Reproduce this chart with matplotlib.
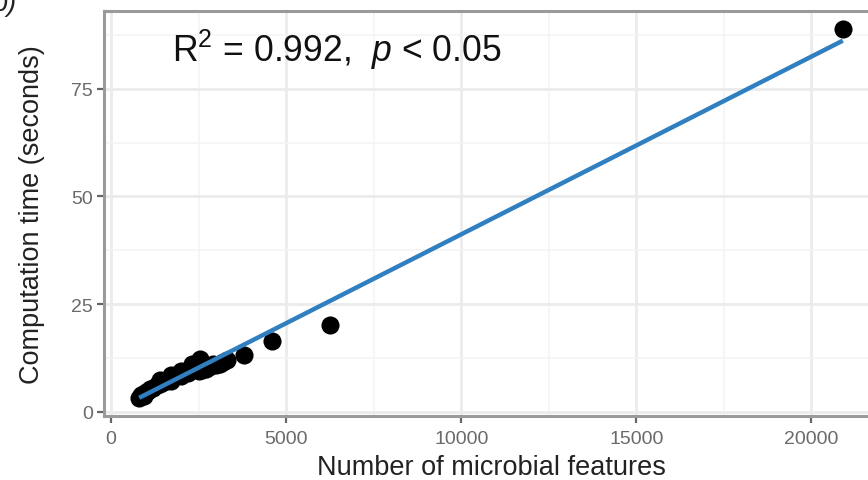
import matplotlib

matplotlib.use('Agg')
import numpy as np
import matplotlib.pyplot as plt

matplotlib.rcParams.update({'font.family': ['Liberation Sans', 'DejaVu Sans'],
                            'mathtext.fontset': 'custom',
                            'mathtext.rm': 'Liberation Sans',
                            'mathtext.it': 'Liberation Sans:italic'})

# number of microbial features vs computation time (s)
features = [800, 850, 900, 950, 1000, 1050, 1100, 1200, 1300, 1400, 1400, 1500,
            1600, 1700, 1700, 1800, 1900, 2000, 2000, 2100, 2200, 2300, 2300,
            2400, 2500, 2530, 2600, 2700, 2800, 2900, 3000, 3100, 3200, 3300,
            3800, 4600, 6250, 20900]
comp_time = [3.3, 3.8, 4.2, 3.6, 4.5, 4.9, 5.3, 5.6, 6.2, 6.4, 7.3, 7.0,
             7.5, 7.2, 8.5, 8.2, 8.6, 8.4, 9.5, 9.3, 9.0, 10.0, 11.2,
             10.6, 9.5, 12.2, 9.8, 10.0, 10.3, 11.0, 10.9, 11.2, 11.5, 12.0,
             13.3, 16.5, 20.2, 88.8]
x_ticks = [0, 5000, 10000, 15000, 20000]
y_ticks = [0, 25, 50, 75]
annot = r'R$^{2}$ = 0.992,  $p$ < 0.05'

x = np.array(features, dtype=float)
y = np.array(comp_time)
slope, icpt = np.polyfit(x, y, 1)

fig = plt.figure(figsize=(8.68, 4.81), dpi=100)
ax = fig.add_axes([104 / 868, 1 - 417 / 481, (878 - 104) / 868, (417 - 12) / 481])

ax.scatter(x, y, s=170, color='black', zorder=3, linewidths=0)
xl = np.array([x.min(), x.max()])
ax.plot(xl, icpt + slope * xl, color='#2f7fc1', lw=3.2, zorder=4, solid_capstyle='butt')

dx = (x.max() - x.min()) * 0.05
dy = (y.max() - y.min()) * 0.05
ax.set_xlim(x.min() - dx, x.max() + dx)
ax.set_ylim(y.min() - dy, y.max() + dy)

ax.set_xticks(x_ticks)
ax.set_yticks(y_ticks)
ax.set_xticks([2500, 7500, 12500, 17500], minor=True)
ax.set_yticks([12.5, 37.5, 62.5, 87.5], minor=True)
ax.grid(which='major', color='#ebebeb', lw=2.0, zorder=0)
ax.grid(which='minor', color='#f4f4f4', lw=1.1, zorder=0)
ax.set_axisbelow(True)
ax.tick_params(which='minor', length=0)
ax.tick_params(which='major', length=5, width=1.6, color='#666666',
               labelsize=14, labelcolor='#6a6a6a')
ax.tick_params(axis='y', pad=3)
ax.tick_params(axis='x', pad=5)
for sp in ax.spines.values():
    sp.set_color('#9a9a9a')
    sp.set_linewidth(2.2)

ax.set_xlabel('Number of microbial features', fontsize=19.5, color='#222222')
ax.set_ylabel('Computation time (seconds)', fontsize=19.5, color='#222222')
ax.xaxis.set_label_coords(0.5, -0.094)
ax.yaxis.set_label_coords(-0.076, 0.5)

ax.text(0.088, 0.8765, annot, transform=ax.transAxes, fontsize=25.6, va='baseline', ha='left',
        color='#111111')
fig.text(17 / 868, 1 - 11 / 481, 'b)', fontsize=19.5, style='italic', ha='right', va='baseline',
         color='#222222')

plt.savefig('out.png', dpi=100)
